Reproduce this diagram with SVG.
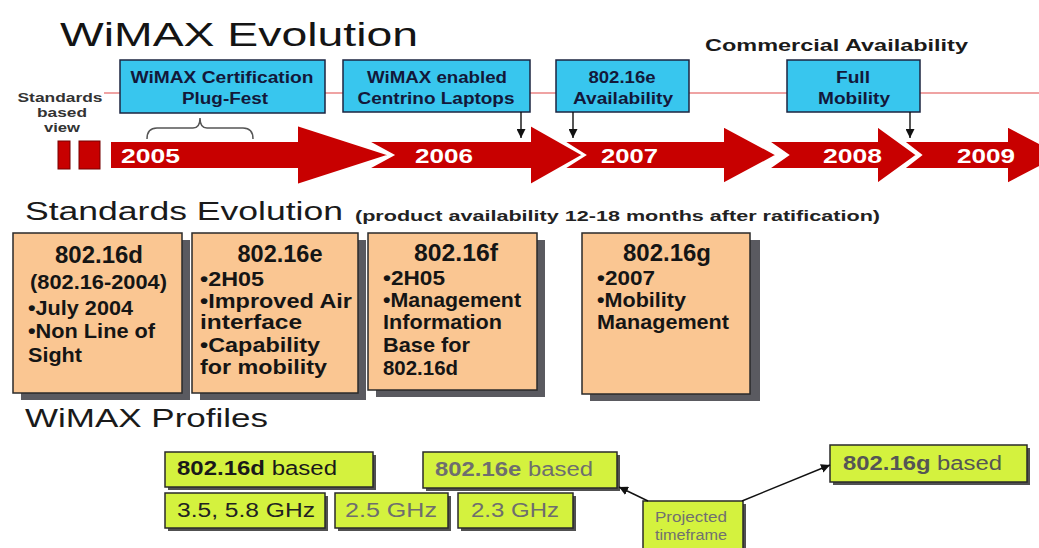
<svg xmlns="http://www.w3.org/2000/svg" width="1039" height="548" viewBox="0 0 1039 548">
<defs>
<style>
text{font-family:"Liberation Sans",Arial,sans-serif}
.b{font-weight:bold}
.blue{fill:#38c6ee;stroke:#1c2440;stroke-width:1.5}
.bt{font-size:16px;font-weight:bold;fill:#13183a;text-anchor:middle}
.red{fill:#c80000;stroke:#ffffff;stroke-width:2}
.yr{font-size:21px;font-weight:bold;fill:#ffffff}
.org{fill:#fac692;stroke:#2a2a2a;stroke-width:1.5}
.sh{fill:#5a5a60}
.ot{font-size:21px;font-weight:bold;fill:#151515}
.oh{font-size:23px;font-weight:bold;fill:#151515;text-anchor:middle}
.grn{fill:#d4f23e;stroke:#2a2a2a;stroke-width:1.5}
.gsh{fill:#505050}
.gt{font-size:20px}
.dark{fill:#1a1a1a}
.gray{fill:#6e6e6e}
.sv{font-size:13px;font-weight:bold;fill:#333;text-anchor:middle}
.conn{stroke:#111;stroke-width:1.4;fill:none}
</style>
<marker id="ah" viewBox="0 0 10 10" refX="10" refY="5" markerWidth="9" markerHeight="9" markerUnits="userSpaceOnUse" orient="auto"><path d="M0,0 L10,5 L0,10 Z" fill="#111"/></marker>
</defs>
<rect width="1039" height="548" fill="#ffffff"/>

<text x="60" y="46" font-size="34" fill="#141414" textLength="358" lengthAdjust="spacingAndGlyphs">WiMAX Evolution</text>
<text x="705" y="51" class="b" font-size="17" fill="#1a1a1a" textLength="263" lengthAdjust="spacingAndGlyphs">Commercial Availability</text>

<g id="standards-view">
<text x="60" y="102" class="sv" textLength="85" lengthAdjust="spacingAndGlyphs">Standards</text>
<text x="62" y="117" class="sv" textLength="50" lengthAdjust="spacingAndGlyphs">based</text>
<text x="62" y="132" class="sv" textLength="36" lengthAdjust="spacingAndGlyphs">view</text>
<rect x="58" y="141" width="12" height="28" fill="#c80000" stroke="#700" stroke-width="1"/>
<rect x="79" y="141" width="21" height="28" fill="#c80000" stroke="#700" stroke-width="1"/>
</g>

<line x1="104" y1="93" x2="1039" y2="93" stroke="#e04848" stroke-width="1.2"/>

<g id="timeline">
<path class="red" d="M110,141 H297 V125 L390,155 L297,185 V169 H110 Z"/>
<path class="red" d="M367,141 H530 V125 L583,155 L530,185 V169 H367 L393,155 Z"/>
<path class="red" d="M563,141 H723 V126 L777,155 L723,184 V169 H563 L585,155 Z"/>
<path class="red" d="M768,141 H877 V126 L917,155 L877,184 V169 H768 L788,155 Z"/>
<path class="red" d="M903,141 H1007 V126 L1062,155 L1007,184 V169 H903 L921,155 Z"/>
<text x="121" y="163" class="yr" textLength="59" lengthAdjust="spacingAndGlyphs">2005</text>
<text x="415" y="163" class="yr" textLength="58" lengthAdjust="spacingAndGlyphs">2006</text>
<text x="601" y="163" class="yr" textLength="57" lengthAdjust="spacingAndGlyphs">2007</text>
<text x="823" y="163" class="yr" textLength="59" lengthAdjust="spacingAndGlyphs">2008</text>
<text x="957" y="163" class="yr" textLength="58" lengthAdjust="spacingAndGlyphs">2009</text>
</g>

<g id="plugfest">
<rect class="blue" x="120" y="60" width="205" height="53"/>
<text x="222" y="83" class="bt" textLength="183" lengthAdjust="spacingAndGlyphs">WiMAX Certification</text>
<text x="225" y="104" class="bt" textLength="86" lengthAdjust="spacingAndGlyphs">Plug-Fest</text>
</g>
<g id="centrino">
<rect class="blue" x="343" y="60" width="187" height="52"/>
<text x="437" y="83" class="bt" textLength="140" lengthAdjust="spacingAndGlyphs">WiMAX enabled</text>
<text x="436" y="104" class="bt" textLength="157" lengthAdjust="spacingAndGlyphs">Centrino Laptops</text>
</g>
<g id="avail16e">
<rect class="blue" x="556" y="60" width="133" height="52"/>
<text x="622" y="83" class="bt" textLength="67" lengthAdjust="spacingAndGlyphs">802.16e</text>
<text x="623" y="104" class="bt" textLength="100" lengthAdjust="spacingAndGlyphs">Availability</text>
</g>
<g id="fullmobility">
<rect class="blue" x="787" y="60" width="133" height="52"/>
<text x="853" y="83" class="bt" textLength="34" lengthAdjust="spacingAndGlyphs">Full</text>
<text x="854" y="104" class="bt" textLength="72" lengthAdjust="spacingAndGlyphs">Mobility</text>
</g>

<path id="brace" d="M147,139 Q147,128 157,128 H193 Q200,128 200,118 Q200,128 207,128 H243 Q253,128 253,139" fill="none" stroke="#555" stroke-width="1.5"/>

<text x="25" y="220" font-size="25" fill="#1a1a1a" textLength="318" lengthAdjust="spacingAndGlyphs">Standards Evolution</text>
<text x="355" y="221" class="b" font-size="15" fill="#222" textLength="525" lengthAdjust="spacingAndGlyphs">(product availability 12-18 months after ratification)</text>

<g id="std16d">
<rect class="sh" x="21" y="240" width="169" height="160"/>
<rect class="org" x="13" y="233" width="169" height="160"/>
<text x="99" y="263" class="oh" textLength="88" lengthAdjust="spacingAndGlyphs">802.16d</text>
<text x="30" y="289" class="ot" textLength="137" lengthAdjust="spacingAndGlyphs">(802.16-2004)</text>
<text x="28" y="315" class="ot" textLength="105" lengthAdjust="spacingAndGlyphs">•July 2004</text>
<text x="28" y="338" class="ot" textLength="127" lengthAdjust="spacingAndGlyphs">•Non Line of</text>
<text x="28" y="362" class="ot" textLength="54" lengthAdjust="spacingAndGlyphs">Sight</text>
</g>
<g id="std16e">
<rect class="sh" x="200" y="240" width="166" height="160"/>
<rect class="org" x="192" y="233" width="166" height="160"/>
<text x="280" y="262" class="oh" textLength="85" lengthAdjust="spacingAndGlyphs">802.16e</text>
<text x="200" y="286" class="ot" textLength="64" lengthAdjust="spacingAndGlyphs">•2H05</text>
<text x="200" y="308" class="ot" textLength="152" lengthAdjust="spacingAndGlyphs">•Improved Air</text>
<text x="200" y="329" class="ot" textLength="102" lengthAdjust="spacingAndGlyphs">interface</text>
<text x="200" y="352" class="ot" textLength="120" lengthAdjust="spacingAndGlyphs">•Capability</text>
<text x="200" y="374" class="ot" textLength="127" lengthAdjust="spacingAndGlyphs">for mobility</text>
</g>
<g id="std16f">
<rect class="sh" x="376" y="240" width="169" height="157"/>
<rect class="org" x="368" y="233" width="169" height="157"/>
<text x="456" y="261" class="oh" textLength="84" lengthAdjust="spacingAndGlyphs">802.16f</text>
<text x="383" y="285" class="ot" textLength="62" lengthAdjust="spacingAndGlyphs">•2H05</text>
<text x="383" y="307" class="ot" textLength="138" lengthAdjust="spacingAndGlyphs">•Management</text>
<text x="383" y="329" class="ot" textLength="119" lengthAdjust="spacingAndGlyphs">Information</text>
<text x="383" y="352" class="ot" textLength="87" lengthAdjust="spacingAndGlyphs">Base for</text>
<text x="383" y="375" class="ot" textLength="75" lengthAdjust="spacingAndGlyphs">802.16d</text>
</g>
<g id="std16g">
<rect class="sh" x="590" y="240" width="170" height="161"/>
<rect class="org" x="582" y="233" width="168" height="161"/>
<text x="667" y="261" class="oh" textLength="88" lengthAdjust="spacingAndGlyphs">802.16g</text>
<text x="597" y="285" class="ot" textLength="58" lengthAdjust="spacingAndGlyphs">•2007</text>
<text x="597" y="307" class="ot" textLength="89" lengthAdjust="spacingAndGlyphs">•Mobility</text>
<text x="597" y="329" class="ot" textLength="132" lengthAdjust="spacingAndGlyphs">Management</text>
</g>

<text x="25" y="427" font-size="26" fill="#1a1a1a" textLength="243" lengthAdjust="spacingAndGlyphs">WiMAX Profiles</text>

<g id="prof16d">
<rect class="gsh" x="168" y="455" width="208" height="35"/>
<rect class="grn" x="165" y="452" width="208" height="35"/>
<text x="177" y="475" class="gt dark" textLength="160" lengthAdjust="spacingAndGlyphs"><tspan class="b">802.16d</tspan> based</text>
</g>
<g id="f3558">
<rect class="gsh" x="168" y="496" width="160" height="35"/>
<rect class="grn" x="165" y="493" width="160" height="35"/>
<text x="177" y="517" class="gt" fill="#222" textLength="138" lengthAdjust="spacingAndGlyphs">3.5, 5.8 GHz</text>
</g>
<g id="f25">
<rect class="gsh" x="338" y="496" width="113" height="35"/>
<rect class="grn" x="335" y="493" width="113" height="35"/>
<text x="345" y="517" class="gt gray" textLength="92" lengthAdjust="spacingAndGlyphs">2.5 GHz</text>
</g>
<g id="f23">
<rect class="gsh" x="461" y="496" width="115" height="35"/>
<rect class="grn" x="458" y="493" width="115" height="35"/>
<text x="471" y="517" class="gt gray" textLength="88" lengthAdjust="spacingAndGlyphs">2.3 GHz</text>
</g>
<g id="prof16e">
<rect class="gsh" x="426" y="455" width="194" height="36"/>
<rect class="grn" x="423" y="452" width="194" height="36"/>
<text x="435" y="476" class="gt gray" textLength="158" lengthAdjust="spacingAndGlyphs"><tspan class="b">802.16e</tspan> based</text>
</g>
<g id="projected">
<rect class="gsh" x="646" y="504" width="100" height="50"/>
<rect class="grn" x="643" y="501" width="100" height="50"/>
<text x="655" y="522" font-size="14" fill="#707070" textLength="72" lengthAdjust="spacingAndGlyphs">Projected</text>
<text x="655" y="540" font-size="14" fill="#707070" textLength="72" lengthAdjust="spacingAndGlyphs">timeframe</text>
</g>
<g id="prof16g">
<rect class="gsh" x="833" y="448" width="197" height="37"/>
<rect class="grn" x="830" y="445" width="197" height="37"/>
<text x="843" y="470" class="gt" fill="#555" textLength="159" lengthAdjust="spacingAndGlyphs"><tspan class="b">802.16g</tspan> based</text>
</g>

<g id="connectors">
<line class="conn" x1="521" y1="112" x2="521" y2="138" marker-end="url(#ah)"/>
<line class="conn" x1="573" y1="112" x2="573" y2="138" marker-end="url(#ah)"/>
<line class="conn" x1="910" y1="112" x2="910" y2="138" marker-end="url(#ah)"/>
<line class="conn" x1="648" y1="501" x2="619" y2="487" stroke="#333" marker-end="url(#ah)"/>
<line class="conn" x1="742" y1="501" x2="830" y2="465" stroke="#333" marker-end="url(#ah)"/>
</g>
</svg>
